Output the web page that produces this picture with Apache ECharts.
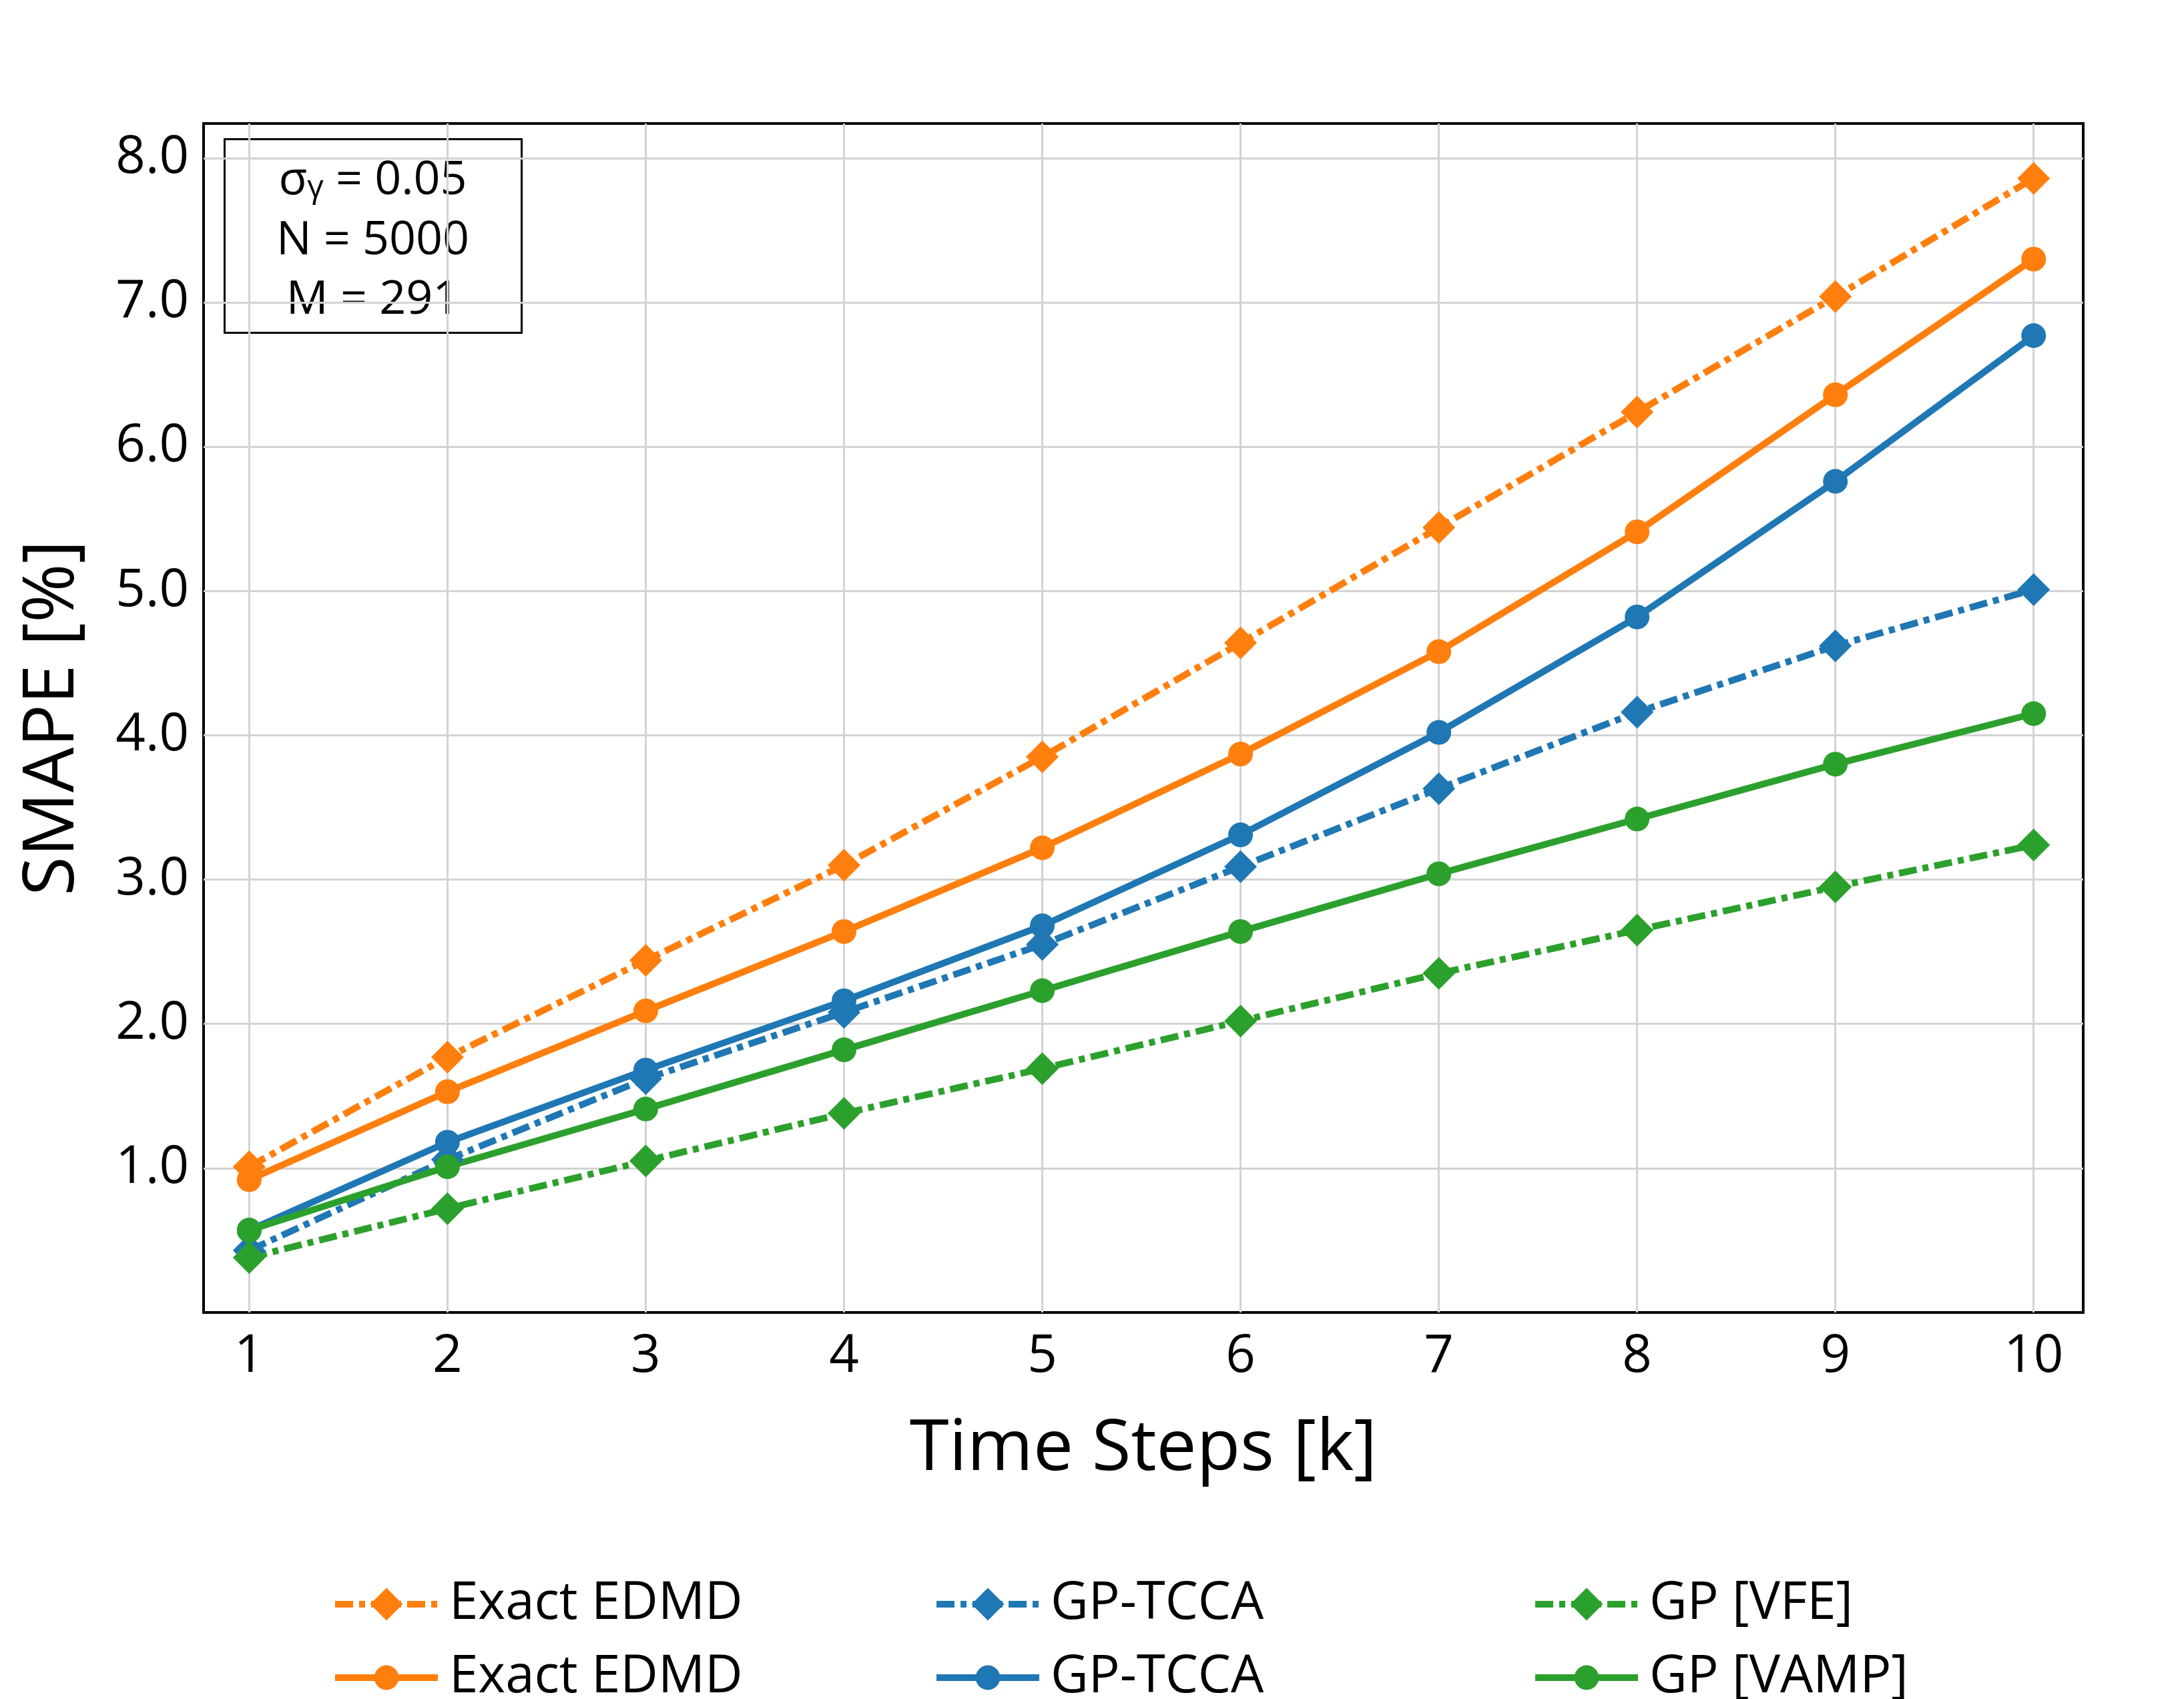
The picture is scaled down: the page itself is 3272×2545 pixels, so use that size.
<!DOCTYPE html>
<html>
<head>
<meta charset="utf-8">
<title>SMAPE over time steps</title>
<script src="https://cdn.jsdelivr.net/npm/echarts@6/dist/echarts.min.js"></script>
<style>
  html, body { margin: 0; padding: 0; background: #fff; }
  #chart { width: 3272px; height: 2545px; }
</style>
</head>
<body>
<div id="chart"></div>
<script>
// data
const steps = [1, 2, 3, 4, 5, 6, 7, 8, 9, 10];
const xTicks = [1, 2, 3, 4, 5, 6, 7, 8, 9, 10];
const yTicks = [1, 2, 3, 4, 5, 6, 7, 8];

const exactEdmdDashDot = [1.01, 1.77, 2.44, 3.10, 3.85, 4.64, 5.44, 6.24, 7.04, 7.86];
const exactEdmdSolid   = [0.92, 1.53, 2.09, 2.64, 3.22, 3.87, 4.58, 5.41, 6.36, 7.30];
const gpTccaDashDot    = [0.43, 1.06, 1.62, 2.08, 2.55, 3.09, 3.63, 4.16, 4.62, 5.01];
const gpTccaSolid      = [0.57, 1.18, 1.68, 2.16, 2.68, 3.31, 4.02, 4.82, 5.76, 6.77];
const gpVfe            = [0.38, 0.72, 1.05, 1.38, 1.69, 2.02, 2.35, 2.65, 2.95, 3.24];
const gpVamp           = [0.57, 1.01, 1.41, 1.82, 2.23, 2.64, 3.04, 3.42, 3.80, 4.15];

const legendLabels = ['Exact EDMD', 'Exact EDMD', 'GP-TCCA', 'GP-TCCA', 'GP [VFE]', 'GP [VAMP]'];

const FONT = 'Open Sans';
const ORANGE = '#ff7f0e', BLUE = '#1f77b4', GREEN = '#2ca02c';
const dashDot = [27, 9, 9, 9];
const LW = 10;

let chart = echarts.init(document.getElementById('chart'));

function pairs(vals) {
  return steps.map((s, i) => [s, vals[i]]);
}

// dashed -> diamond markers, solid -> circles
function mkSeries(idx, vals, color, dashed) {
  return {
    name: legendLabels[idx] + '#' + idx,
    type: 'line',
    data: pairs(vals),
    symbol: dashed ? 'diamond' : 'circle',
    symbolSize: dashed ? 49 : 37,
    itemStyle: { color: color },
    lineStyle: { color: color, width: LW, type: dashed ? dashDot : 'solid', cap: 'butt' },
    emphasis: { disabled: true },
    animation: false
  };
}

const series = [
  mkSeries(0, exactEdmdDashDot, ORANGE, true),
  mkSeries(1, exactEdmdSolid, ORANGE, false),
  mkSeries(2, gpTccaDashDot, BLUE, true),
  mkSeries(3, gpTccaSolid, BLUE, false),
  mkSeries(4, gpVfe, GREEN, true),
  mkSeries(5, gpVamp, GREEN, false)
];

// legend: 3 columns x 2 rows, one component per entry
const colLeft = [497, 1398, 2295];
const rowTop = [2364, 2474];
const legends = series.map((s, i) => ({
  data: [s.name],
  left: colLeft[Math.floor(i / 2)],
  top: rowTop[i % 2],
  padding: 0,
  itemWidth: 154,
  itemHeight: i % 2 === 0 ? 61 : 46,
  selectedMode: false,
  formatter: n => n.split('#')[0],
  lineStyle: { width: LW },
  textStyle: { fontFamily: FONT, fontSize: 78, lineHeight: 78, color: '#000', padding: [0, 0, 0, 12] }
}));

chart.setOption({
  backgroundColor: '#fff',
  textStyle: { fontFamily: FONT },
  grid: {
    show: true,
    left: 305, right: 151, top: 185, bottom: 579,
    borderColor: '#000', borderWidth: 4,
    backgroundColor: 'transparent'
  },
  xAxis: {
    type: 'value',
    min: 0.77, max: 10.25,
    axisLine: { show: false },
    axisTick: { show: false, customValues: xTicks },
    axisLabel: {
      customValues: xTicks,
      fontFamily: FONT, fontSize: 78, color: '#000', margin: 28
    },
    splitLine: { show: true, lineStyle: { color: '#d3d3d3', width: 3 } },
    name: 'Time Steps [k]',
    nameLocation: 'middle',
    nameGap: 152,
    nameTextStyle: { fontFamily: FONT, fontSize: 107, color: '#000' }
  },
  yAxis: {
    type: 'value',
    min: 0, max: 8.24,
    axisLine: { show: false },
    axisTick: { show: false, customValues: yTicks },
    axisLabel: {
      customValues: yTicks,
      formatter: v => v.toFixed(1),
      fontFamily: FONT, fontSize: 78, color: '#000', margin: 22
    },
    splitLine: { show: true, lineStyle: { color: '#d3d3d3', width: 3 } },
    name: 'SMAPE [%]',
    nameLocation: 'middle',
    nameGap: 172,
    nameTextStyle: { fontFamily: FONT, fontSize: 107, color: '#000' }
  },
  legend: legends,
  graphic: [{
    type: 'group',
    left: 335, top: 207,
    z: 100,
    children: [
      { type: 'rect', shape: { x: 0, y: 0, width: 445, height: 290 },
        style: { fill: '#fff', stroke: '#000', lineWidth: 3 } },
      { type: 'text', x: 222, y: 56,
        style: {
          text: '{a|σ}{s|γ}{a| = 0.05}',
          align: 'center', verticalAlign: 'middle',
          rich: {
            a: { fontFamily: FONT, fontSize: 70, lineHeight: 84, color: '#000', verticalAlign: 'bottom' },
            s: { fontFamily: FONT, fontSize: 48, lineHeight: 62, color: '#000', verticalAlign: 'bottom' }
          }
        } },
      { type: 'text', x: 222, y: 153,
        style: { text: 'N = 5000', align: 'center', verticalAlign: 'middle',
                 fontFamily: FONT, fontSize: 70, fill: '#000' } },
      { type: 'text', x: 222, y: 242,
        style: { text: 'M = 291', align: 'center', verticalAlign: 'middle',
                 fontFamily: FONT, fontSize: 70, fill: '#000' } }
    ]
  }],
  series: series
});
</script>
</body>
</html>
